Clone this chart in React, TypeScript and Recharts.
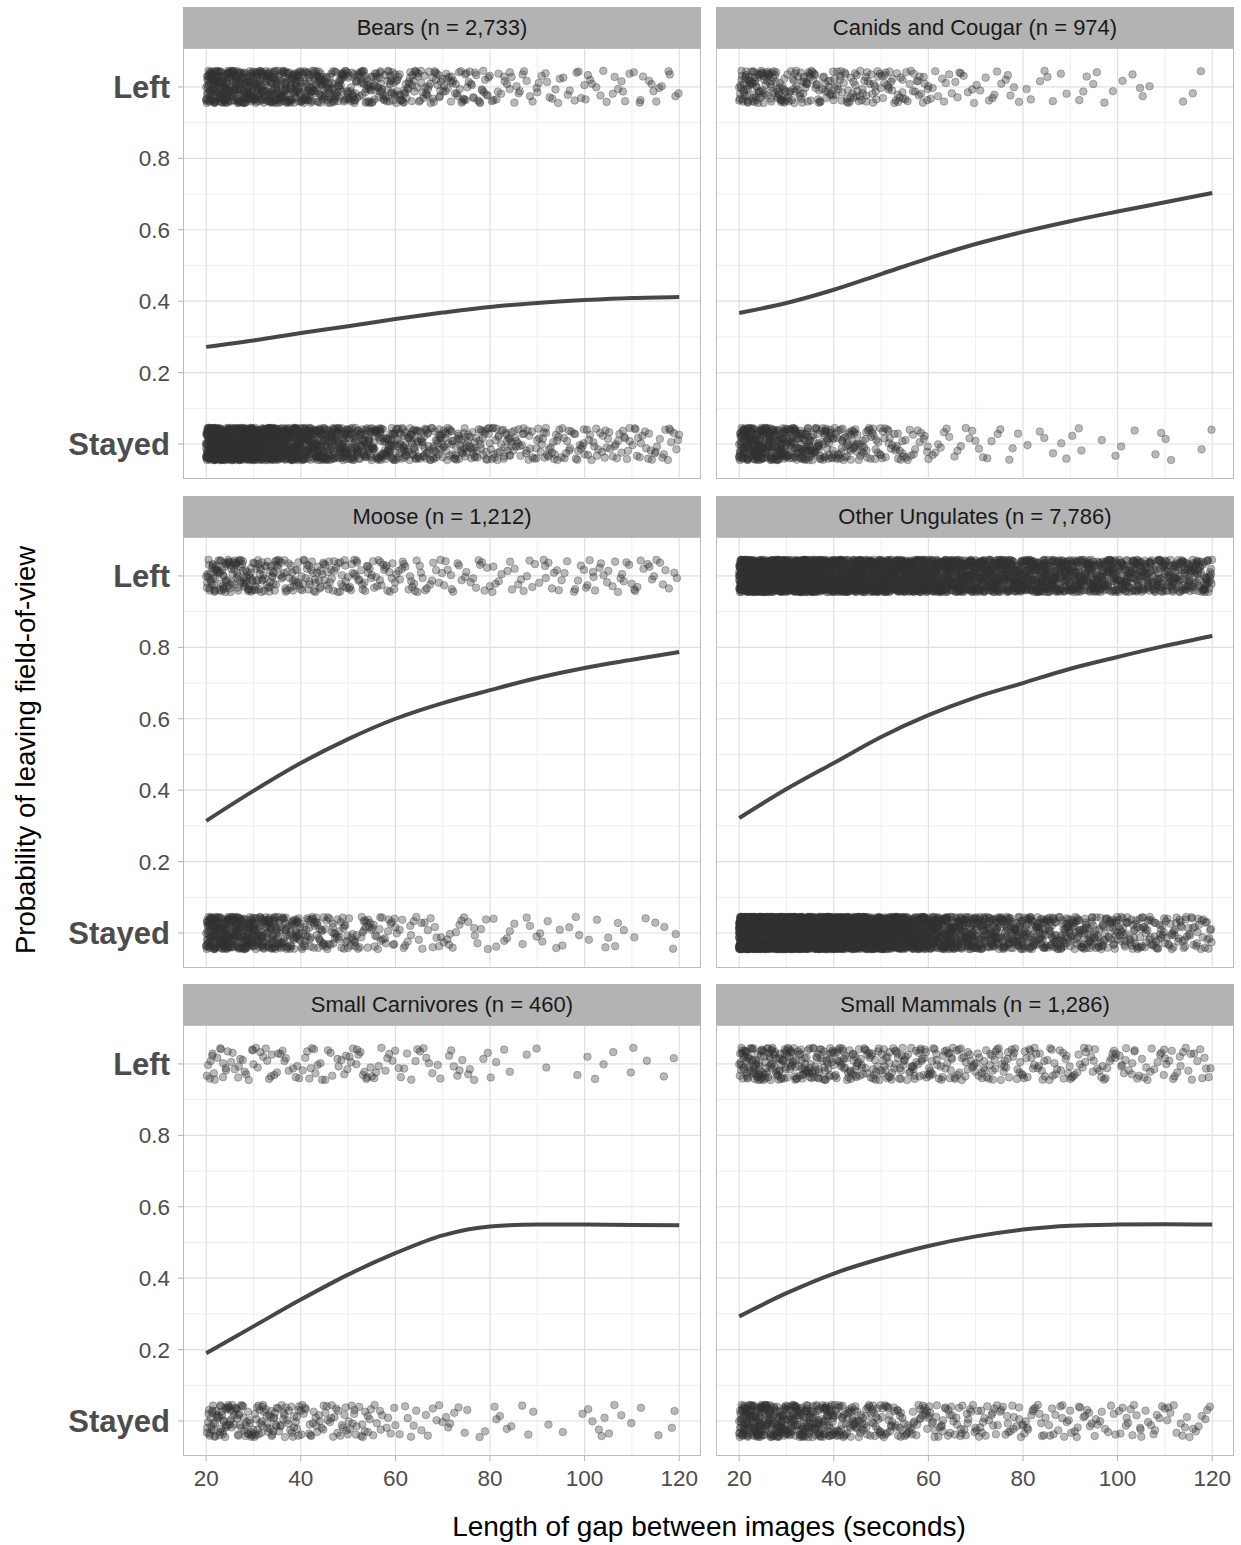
import React from 'react'
import { ComposedChart, Scatter, Line, XAxis, YAxis, CartesianGrid } from 'recharts'

// 5-second bins of the gap length, start of each bin
const X_BINS = [20,25,30,35,40,45,50,55,60,65,70,75,80,85,90,95,100,105,110,115]
// fixed jitter tables (fraction of bin width, and thousandths of a unit in y)
const JX = [47,8,91,33,72,15,60,84,26,3,55,97,38,69,12,80,44,21,95,63,6,35,77,52,18,88,41,0,66,29,99,58,10,74,37,85,23,49,93,14,67,31,79,4,56,42,90,19,71,27,62,83,36]
const JY = [8,-37,29,41,-12,-44,17,-3,35,-26,2,-41,44,-18,23,-33,11,38,-7,-29,31,-45,14,-15,40,-22,5,-38,26,43,-10,-31,20,-1,-42,33,-24,9,45,-35,16,-6,37,-19,-40,28,-13]

const CURVE_X = [20,30,40,50,60,70,80,90,100,110,120]
const X_TICKS = [20,40,60,80,100,120]
const X_MINOR = [30,50,70,90,110]
const Y_TICKS = [0,0.2,0.4,0.6,0.8,1]
const Y_LABELS = ['Stayed','0.2','0.4','0.6','0.8','Left']
const Y_MINOR = [0.1,0.3,0.5,0.7,0.9]

const TITLES = ['Bears (n = 2,733)','Canids and Cougar (n = 974)','Moose (n = 1,212)','Other Ungulates (n = 7,786)','Small Carnivores (n = 460)','Small Mammals (n = 1,286)']

// observations per bin, "Left" (1) and "Stayed" (0)
const BEARS_LEFT = [130,110,100,90,75,60,50,45,35,30,25,22,12,10,10,8,8,7,7,7]
const BEARS_STAYED = [300,260,220,180,130,100,80,70,55,45,40,35,30,25,22,20,18,16,15,14]
const CANIDS_LEFT = [60,45,35,30,28,25,22,18,10,8,7,6,4,4,4,3,3,2,1,2]
const CANIDS_STAYED = [140,110,80,55,40,30,22,15,8,7,5,4,3,3,3,2,2,2,2,2]
const MOOSE_LEFT = [55,50,40,30,28,25,22,20,15,12,10,10,8,8,9,8,10,10,9,7]
const MOOSE_STAYED = [150,120,90,60,40,30,25,20,12,10,9,7,5,5,5,4,3,4,3,3]
const UNGULATES_LEFT = [350,300,280,260,240,220,200,190,170,160,150,140,130,120,110,100,90,80,75,70]
const UNGULATES_STAYED = [700,600,500,450,350,300,250,200,150,110,90,80,70,60,55,45,40,35,30,25]
const SMALLCARN_LEFT = [16,12,12,10,11,10,12,10,7,7,6,5,4,2,1,1,3,2,2,2]
const SMALLCARN_STAYED = [45,35,35,25,20,18,18,10,7,7,6,3,5,3,1,2,5,4,1,3]
const SMALLMAM_LEFT = [60,50,45,40,35,30,30,28,25,22,22,20,18,16,15,14,13,12,12,10]
const SMALLMAM_STAYED = [110,90,80,70,45,35,30,25,22,20,18,16,15,13,12,10,12,10,9,8]

// fitted probability at CURVE_X
const BEARS_CURVE = [0.272,0.29,0.311,0.33,0.35,0.368,0.384,0.395,0.403,0.409,0.412]
const CANIDS_CURVE = [0.367,0.395,0.432,0.476,0.52,0.56,0.594,0.624,0.651,0.677,0.703]
const MOOSE_CURVE = [0.314,0.398,0.476,0.543,0.6,0.644,0.68,0.714,0.742,0.765,0.787]
const UNGULATES_CURVE = [0.322,0.403,0.476,0.549,0.61,0.66,0.7,0.74,0.773,0.804,0.832]
const SMALLCARN_CURVE = [0.19,0.265,0.34,0.41,0.47,0.52,0.545,0.55,0.55,0.549,0.548]
const SMALLMAM_CURVE = [0.293,0.358,0.413,0.455,0.49,0.517,0.536,0.547,0.55,0.551,0.55]

const FONT = '"Liberation Sans", Arial, Helvetica, sans-serif'
const COL_LEFT = [183, 716]
const ROW_TOP = [48, 537, 1025]
const PW = 518
const PH = 431
const STRIP = 41

function points(counts: number[], level: number, seed: number) {
  const out: { x: number; y: number }[] = []
  let k = seed
  counts.forEach((c, i) => {
    for (let j = 0; j < c; j++) {
      out.push({ x: X_BINS[i] + (JX[k % JX.length] / 100) * 5, y: level + JY[k % JY.length] / 1000 })
      k++
    }
  })
  return out
}

function curve(vals: number[]) {
  return CURVE_X.map((x, i) => ({ x, y: vals[i] }))
}

const facets = [
  { title: TITLES[0], left: BEARS_LEFT, stayed: BEARS_STAYED, fit: BEARS_CURVE },
  { title: TITLES[1], left: CANIDS_LEFT, stayed: CANIDS_STAYED, fit: CANIDS_CURVE },
  { title: TITLES[2], left: MOOSE_LEFT, stayed: MOOSE_STAYED, fit: MOOSE_CURVE },
  { title: TITLES[3], left: UNGULATES_LEFT, stayed: UNGULATES_STAYED, fit: UNGULATES_CURVE },
  { title: TITLES[4], left: SMALLCARN_LEFT, stayed: SMALLCARN_STAYED, fit: SMALLCARN_CURVE },
  { title: TITLES[5], left: SMALLMAM_LEFT, stayed: SMALLMAM_STAYED, fit: SMALLMAM_CURVE },
]

const Dot = (p: any) => (
  <circle cx={p.cx} cy={p.cy} r={3.8} fill="#333" fillOpacity={0.34} stroke="#333" strokeOpacity={0.32} strokeWidth={1} />
)

const YTick = (p: any) => {
  const v = p.payload.value
  const i = Y_TICKS.indexOf(v)
  const bold = v === 0 || v === 1
  return (
    <text x={p.x} y={p.y} dy={bold ? 11 : 8} textAnchor="end" fill="#4d4d4d"
      fontSize={bold ? 31 : 22.5} fontWeight={bold ? 'bold' : 'normal'} fontFamily={FONT}>
      {Y_LABELS[i]}
    </text>
  )
}

function Facet({ idx }: { idx: number }) {
  const f = facets[idx]
  const col = idx % 2
  const row = Math.floor(idx / 2)
  const last = row === 2
  const pts = [...points(f.stayed, 0, idx * 7), ...points(f.left, 1, idx * 7 + 19)]
  const w = col === 0 ? COL_LEFT[0] + PW : PW
  const h = last ? PH + 50 : PH
  return (
    <>
      <div style={{ position: 'absolute', left: COL_LEFT[col], top: ROW_TOP[row] - STRIP, width: PW, height: STRIP,
        background: '#b3b3b3', color: '#1a1a1a', fontSize: 22, lineHeight: STRIP + 'px', textAlign: 'center' }}>
        {f.title}
      </div>
      <div style={{ position: 'absolute', left: col === 0 ? 0 : COL_LEFT[1], top: ROW_TOP[row] }}>
        <ComposedChart width={w} height={h} margin={{ top: 0, right: 0, bottom: 0, left: 0 }}>
          <CartesianGrid horizontalValues={Y_MINOR} verticalValues={X_MINOR} stroke="#eeeeee" strokeWidth={1} />
          <CartesianGrid horizontalValues={Y_TICKS} verticalValues={X_TICKS} stroke="#e0e0e0" strokeWidth={1.2} />
          <XAxis type="number" dataKey="x" domain={[15.1, 124.6]} allowDataOverflow ticks={X_TICKS} interval={0}
            hide={!last} height={50} tickSize={5} tickMargin={9} axisLine={false}
            tickLine={{ stroke: '#b3b3b3' }} tick={{ fill: '#4d4d4d', fontSize: 22.5, fontFamily: FONT }} />
          <YAxis type="number" dataKey="y" domain={[-0.098, 1.109]} allowDataOverflow ticks={Y_TICKS} interval={0}
            hide={col !== 0} width={COL_LEFT[0]} tickSize={5} tickMargin={8} axisLine={false}
            tickLine={{ stroke: '#b3b3b3' }} tick={<YTick />} />
          <Scatter data={pts} shape={Dot} isAnimationActive={false} />
          <Line data={curve(f.fit)} dataKey="y" type="monotone" dot={false} stroke="#474747" strokeWidth={4} isAnimationActive={false} />
        </ComposedChart>
      </div>
      <div style={{ position: 'absolute', left: COL_LEFT[col], top: ROW_TOP[row], width: PW, height: PH,
        border: '1.3px solid #bdbdbd', boxSizing: 'border-box', pointerEvents: 'none' }} />
    </>
  )
}

export default function App() {
  return (
    <div style={{ position: 'absolute', left: 0, top: 0, width: 1241, height: 1545, background: '#fff', fontFamily: FONT }}>
      {facets.map((_, i) => <Facet key={i} idx={i} />)}
      <svg width={1241} height={1545} style={{ position: 'absolute', left: 0, top: 0, pointerEvents: 'none' }}>
        <text x={709} y={1536} textAnchor="middle" fontSize={28} fill="#000" fontFamily={FONT}>
          Length of gap between images (seconds)
        </text>
        <text transform="translate(35,750) rotate(-90)" textAnchor="middle" fontSize={27.5} fill="#000" fontFamily={FONT}>
          Probability of leaving field-of-view
        </text>
      </svg>
    </div>
  )
}
